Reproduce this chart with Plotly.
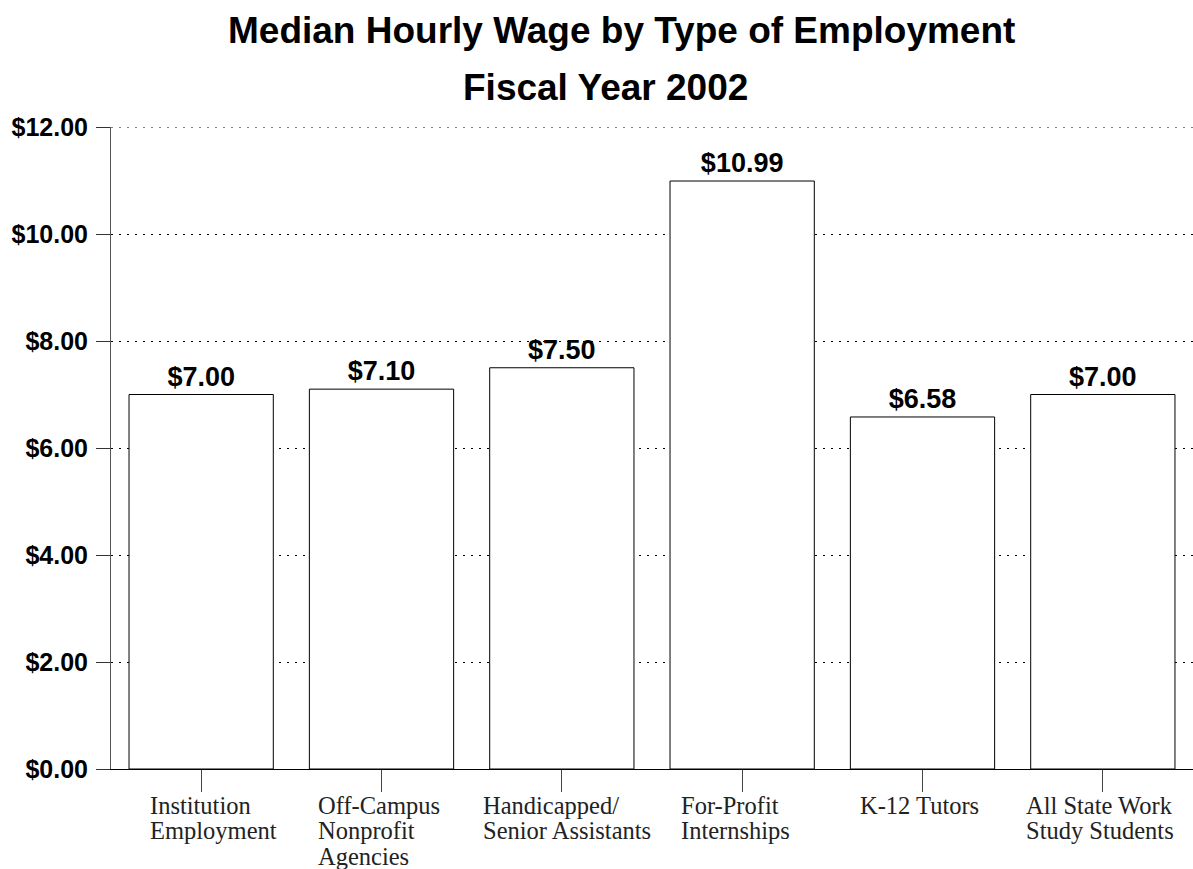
import plotly.graph_objects as go

categories = ["Institution Employment", "Off-Campus Nonprofit Agencies",
              "Handicapped/ Senior Assistants", "For-Profit Internships",
              "K-12 Tutors", "All State Work Study Students"]
label_lines = [["Institution", "Employment"],
               ["Off-Campus", "Nonprofit", "Agencies"],
               ["Handicapped/", "Senior Assistants"],
               ["For-Profit", "Internships"],
               ["K-12 Tutors"],
               ["All State Work", "Study Students"]]
wages = [7.00, 7.10, 7.50, 10.99, 6.58, 7.00]
y_ticks = [0, 2, 4, 6, 8, 10, 12]
y_tick_labels = ["$0.00", "$2.00", "$4.00", "$6.00", "$8.00", "$10.00", "$12.00"]
title_lines = ["Median Hourly Wage by Type of Employment", "Fiscal Year 2002"]

# style: horizontal offset of each left-aligned label block from its tick (px)
label_xshift = [-53, -66, -81, -63, -65, -79]

SANS = "Liberation Sans, Arial, sans-serif"
SERIF = "Liberation Serif, Times New Roman, serif"

W, H = 1193, 869
M_L, M_R, M_T, M_B = 111, 0, 127, 100
plot_h = H - M_T - M_B
GRID_DASH = "2px,6px"

fig = go.Figure()
fig.add_trace(go.Bar(
    x=categories, y=wages,
    marker=dict(color="white", line=dict(color="black", width=1)),
    text=[f"${v:.2f}" for v in wages], textposition="outside",
    textfont=dict(family=SANS, size=27, color="black"),
    texttemplate="<b>%{text}</b>", cliponaxis=False,
    hoverinfo="skip",
))

annotations = []
for i, (cat, lines) in enumerate(zip(categories, label_lines)):
    for j, line in enumerate(lines):
        annotations.append(dict(
            x=cat, y=0, xref="x", yref="y", text=line, showarrow=False,
            xanchor="left", yanchor="middle",
            xshift=label_xshift[i], yshift=-(36 + 25.5 * j),
            font=dict(family=SERIF, size=24.5, color="#222"),
        ))
annotations.append(dict(
    x=0.472, y=1 + (M_T - 31) / plot_h, xref="paper", yref="paper",
    text=f"<b>{title_lines[0]}</b>", showarrow=False,
    xanchor="center", yanchor="middle",
    font=dict(family=SANS, size=37, color="black")))
annotations.append(dict(
    x=0.4566, y=1 + (M_T - 88) / plot_h, xref="paper", yref="paper",
    text=f"<b>{title_lines[1]}</b>", showarrow=False,
    xanchor="center", yanchor="middle",
    font=dict(family=SANS, size=37, color="black")))

fig.update_layout(
    width=W, height=H,
    margin=dict(l=M_L, r=M_R, t=M_T, b=M_B),
    plot_bgcolor="white", paper_bgcolor="white",
    bargap=0.2, showlegend=False,
    annotations=annotations,
    # top gridline (plotly drops the grid line lying on the plot edge)
    shapes=[dict(type="line", xref="paper", yref="y", x0=0, x1=1,
                 y0=y_ticks[-1], y1=y_ticks[-1], layer="below",
                 line=dict(color="black", width=1, dash=GRID_DASH))],
)

fig.update_xaxes(
    showticklabels=False, ticks="outside", ticklen=22, tickcolor="#444", tickwidth=1,
    showline=True, linecolor="black", linewidth=1, showgrid=False,
    fixedrange=True, automargin=False,
)
fig.update_yaxes(
    range=[0, 12], tickvals=y_ticks, ticktext=y_tick_labels,
    ticks="outside", ticklen=14, tickcolor="#333", tickwidth=1,
    ticklabelstandoff=3,
    tickfont=dict(family=SANS, size=25, color="black", weight="bold"),
    showline=True, linecolor="#555", linewidth=1,
    showgrid=True, gridcolor="black", gridwidth=1, griddash=GRID_DASH,
    zeroline=False, automargin=False, fixedrange=True,
)

fig.write_html("out.html", config={"displayModeBar": False},
               post_script="document.body.style.margin='0';document.body.style.overflow='hidden';")
